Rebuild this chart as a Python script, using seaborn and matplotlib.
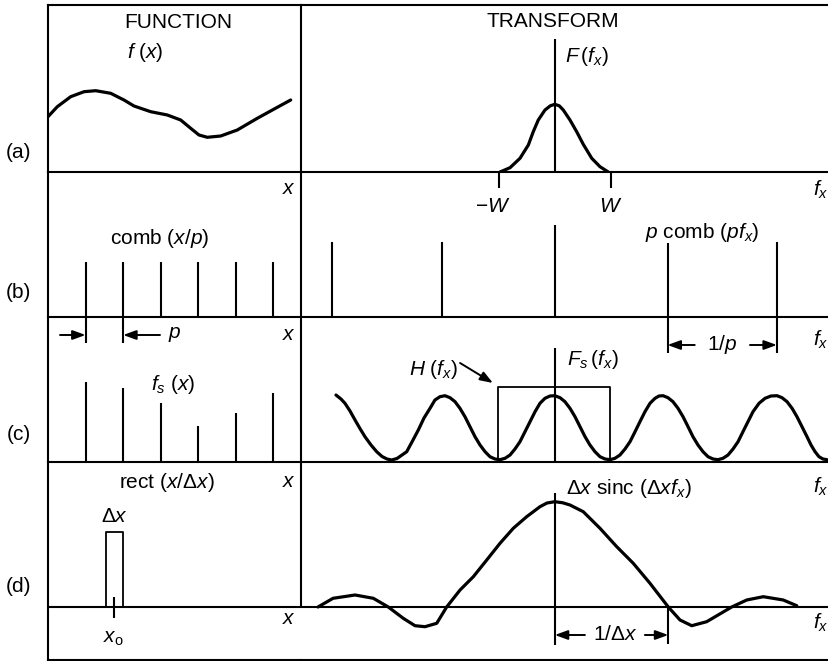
import numpy as np
import pandas as pd
import matplotlib
matplotlib.use("Agg")
import matplotlib.pyplot as plt
import seaborn as sns

# ---------------- data ----------------
# horizontal units: function side in units of the sampling period p,
# transform side in units of 1/p; vertical units are arbitrary amplitude units.

# (a) f(x)
fa_x = [0.0, 0.247, 0.604, 0.958, 1.269, 1.668, 2.022, 2.288, 2.733, 3.175,
        3.531, 3.797, 4.018, 4.239, 4.595, 5.037, 5.569, 6.102, 6.458]
fa_y = [1.106, 1.306, 1.506, 1.606, 1.626, 1.574, 1.44, 1.32, 1.206, 1.14,
        1.04, 0.874, 0.74, 0.694, 0.72, 0.84, 1.074, 1.294, 1.44]

# (a) F(fx)
Fa_fx = [-0.491, -0.401, -0.312, -0.237, -0.193, -0.148, -0.088, -0.04, 0.0,
         0.04, 0.076, 0.136, 0.196, 0.255, 0.331, 0.405, 0.479]
Fa_y = [0.0, 0.086, 0.274, 0.54, 0.806, 1.04, 1.24, 1.324, 1.354,
        1.324, 1.24, 1.04, 0.806, 0.554, 0.274, 0.106, 0.0]
band_W = 0.5

# (b) comb(x/p) and p comb(p fx)
comb_x = [1, 2, 3, 4, 5, 6]
comb_h = [1.1, 1.1, 1.1, 1.1, 1.1, 1.1]
pcomb_fx = [-2.0, -1.01, 0.0, 1.01, 1.99]
pcomb_h = [1.506, 1.506, 1.84, 1.48, 1.506]

# (c) sampled function and its spectrum
fs_h = [1.606, 1.474, 1.174, 0.72, 0.986, 1.374]
Fs_fx = [-1.961, -1.916, -1.880, -1.835, -1.790, -1.746, -1.701, -1.647, -1.596,
         -1.548, -1.504, -1.462, -1.414, -1.369, -1.327, -1.280, -1.223, -1.172,
         -1.118, -1.074, -1.029, -0.984, -0.939, -0.894, -0.850, -0.805, -0.760,
         -0.715, -0.670, -0.625, -0.581, -0.536, -0.491, -0.446, -0.401, -0.357,
         -0.312, -0.267, -0.222, -0.177, -0.133, -0.088, -0.043, 0.0,
         0.047, 0.091, 0.136, 0.181, 0.226, 0.271, 0.315, 0.360, 0.405, 0.450, 0.495,
         0.539, 0.584, 0.629, 0.674, 0.719, 0.763, 0.808, 0.853, 0.898, 0.934, 0.970,
         1.014, 1.059, 1.104, 1.149, 1.194, 1.238, 1.283, 1.328, 1.373, 1.418, 1.462,
         1.507, 1.552, 1.597, 1.642, 1.686, 1.731, 1.776, 1.830, 1.884, 1.937, 1.991,
         2.036, 2.081, 2.126, 2.170, 2.215, 2.260, 2.296, 2.332, 2.367, 2.403, 2.439]
Fs_y = [1.34, 1.26, 1.174, 1.02, 0.84, 0.67, 0.506, 0.34, 0.206,
        0.11, 0.06, 0.04, 0.07, 0.14, 0.206, 0.40, 0.64, 0.88,
        1.074, 1.24, 1.306, 1.326, 1.286, 1.206, 1.074, 0.906, 0.706,
        0.506, 0.34, 0.206, 0.106, 0.06, 0.046, 0.074, 0.14, 0.26,
        0.406, 0.606, 0.806, 1.006, 1.174, 1.274, 1.32, 1.326,
        1.286, 1.206, 1.074, 0.906, 0.706, 0.506, 0.34, 0.206, 0.106, 0.06, 0.046,
        0.074, 0.14, 0.26, 0.406, 0.606, 0.806, 1.006, 1.174, 1.274, 1.32, 1.326,
        1.286, 1.206, 1.074, 0.906, 0.706, 0.506, 0.34, 0.206, 0.106, 0.06, 0.046,
        0.074, 0.14, 0.26, 0.406, 0.606, 0.806, 1.006, 1.174, 1.274, 1.32, 1.326,
        1.286, 1.206, 1.074, 0.906, 0.706, 0.506, 0.34, 0.206, 0.106, 0.06, 0.046]
H_edges = [-0.505, 0.495]
H_height = 1.506

# (d) rect and sinc
rect_edges = [1.543, 1.988]
rect_height = 1.494
x_o = 1.764
sinc_fx = [-2.122, -1.987, -1.790, -1.626, -1.492, -1.358, -1.253, -1.163, -1.058,
           -0.969, -0.849, -0.730, -0.610, -0.491, -0.372, -0.252, -0.133, -0.07, 0.0,
           0.07, 0.136, 0.255, 0.405, 0.555, 0.703, 0.853, 1.017, 1.122, 1.227, 1.361,
           1.585, 1.720, 1.868, 2.047, 2.168]
sinc_y = [0.0, 0.174, 0.24, 0.174, 0.0, -0.226, -0.374, -0.394, -0.326,
          0.0, 0.34, 0.606, 0.94, 1.274, 1.574, 1.806, 2.006, 2.08, 2.106,
          2.085, 2.04, 1.906, 1.574, 1.206, 0.874, 0.474, 0.0, -0.26, -0.374, -0.294,
          0.0, 0.14, 0.206, 0.14, 0.026]
inv_dx = 1.017

# ---------------- style ----------------
sns.set_style("white")
plt.rcParams["font.family"] = ["Liberation Sans", "DejaVu Sans"]
plt.rcParams["mathtext.fontset"] = "custom"
plt.rcParams["mathtext.rm"] = "Liberation Sans"
plt.rcParams["mathtext.it"] = "Liberation Sans:italic"
plt.rcParams["mathtext.bf"] = "Liberation Sans:bold"
FS = 15
K = "black"
LW_FRAME = 1.5
LW_CURVE = 2.3
LW_STICK = 1.5

FW, FH = 829, 661
fig = plt.figure(figsize=(FW / 100, FH / 100), dpi=100)
fig.patch.set_facecolor("white")

X_L, X_D, X_R = 48, 301, 829
ROWS = [4.7, 172, 317, 462, 659.5]
D_BASE = 607
LSC, LORG = 37.58, 48      # px per unit, origin (left column)
RSC, RORG = 111.6, 554.8   # px per unit, origin (right column)
VSC = 50                   # px per vertical unit


def mk(x0, x1, y0, y1):
    ax = fig.add_axes([x0 / FW, 1 - y1 / FH, (x1 - x0) / FW, (y1 - y0) / FH])
    ax.set_xticks([])
    ax.set_yticks([])
    ax.set_facecolor("none")
    for s in ax.spines.values():
        s.set_linewidth(LW_FRAME)
        s.set_color(K)
        s.set_visible(True)
    return ax


axes = {}
for r in range(4):
    y0, y1 = ROWS[r], ROWS[r + 1]
    aL = mk(X_L, X_D, y0, y1)
    aR = mk(X_D, X_R, y0, y1)
    aL.set_xlim(0, (X_D - LORG) / LSC)
    aR.set_xlim((X_D - RORG) / RSC, (X_R - RORG) / RSC)
    if r < 3:
        ylim = (0, (y1 - y0) / VSC)
    else:
        ylim = (-(y1 - D_BASE) / VSC, (D_BASE - y0) / VSC)
    aL.set_ylim(*ylim)
    aR.set_ylim(*ylim)
    aR.spines["left"].set_visible(False)
    aR.spines["right"].set_visible(False)
    if r > 0:
        aL.spines["top"].set_visible(False)
        aR.spines["top"].set_visible(False)
    axes[r] = (aL, aR)

# row d: divider only above the baseline, baseline across both panels
dL, dR = axes[3]
dL.spines["right"].set_visible(False)
dL.vlines(dL.get_xlim()[1], 0, dL.get_ylim()[1], color=K, lw=LW_FRAME, clip_on=False)
dL.axhline(0, color=K, lw=LW_FRAME)
dR.axhline(0, color=K, lw=LW_FRAME)


def curve(ax, xs, ys, lw=LW_CURVE):
    df = pd.DataFrame({"x": xs, "y": ys})
    sns.lineplot(data=df, x="x", y="y", ax=ax, color=K, lw=lw,
                 estimator=None, sort=False, legend=False)
    ax.lines[-1].set_solid_capstyle("round")
    ax.lines[-1].set_solid_joinstyle("round")
    ax.set_xlabel("")
    ax.set_ylabel("")


def arrow(ax, tail, head):
    ax.annotate("", xy=head, xytext=tail,
                arrowprops=dict(arrowstyle="-|>,head_length=0.55,head_width=0.2",
                                color=K, lw=1.4, mutation_scale=14,
                                shrinkA=0, shrinkB=0))


def txt(ax, x, y, s, ha="center"):
    ax.text(x, y, s, ha=ha, va="center", fontsize=FS, color=K)


# ---- row (a)
aL, aR = axes[0]
curve(aL, fa_x, fa_y)
curve(aR, Fa_fx, Fa_y)
aR.vlines(0, 0, 2.66, color=K, lw=LW_STICK)
txt(aL, 3.46, 2.98, "FUNCTION")
txt(aL, 2.58, 2.38, r"$f\ (x)$")
txt(aR, -0.016, 3.006, "TRANSFORM")
txt(aR, 0.29, 2.3, r"$F\,(f_x)$")

# ---- row (b)
bL, bR = axes[1]
bL.vlines(comb_x, 0, comb_h, color=K, lw=LW_STICK)
bR.vlines(pcomb_fx, 0, pcomb_h, color=K, lw=LW_STICK)
bR.vlines([-band_W, band_W], 2.58, 2.9, color=K, lw=LW_STICK, clip_on=False)
txt(bR, -0.553, 2.2, r"$-W$")
txt(bR, band_W, 2.2, r"$W$")
txt(bR, 2.38, 2.54, r"$f_x$")
txt(bR, 1.32, 1.70, r"$p$ comb $(pf_x)$")
txt(bL, 6.41, 2.58, r"$x$")
txt(bL, 2.98, 1.574, r"comb $(x/p)$")

# ---- row (c)
cL, cR = axes[2]
cL.vlines(comb_x, 0, fs_h, color=K, lw=LW_STICK)
cL.vlines(comb_x[:2], 2.38, 2.9, color=K, lw=LW_STICK)
arrow(cL, (0.32, 2.54), (comb_x[0], 2.54))
arrow(cL, (2.98, 2.54), (comb_x[1], 2.54))
txt(cL, 3.38, 2.54, r"$p$")
txt(cL, 6.41, 2.54, r"$x$")
txt(cL, 3.33, 1.54, r"$f_s\ (x)$")

curve(cR, Fs_fx, Fs_y)
cR.plot([H_edges[0], H_edges[0], H_edges[1], H_edges[1]],
        [0, H_height, H_height, 0], color=K, lw=1.3)
cR.vlines(0, 0, 2.28, color=K, lw=LW_STICK)
cR.vlines(pcomb_fx[3:], 2.18, 2.9, color=K, lw=LW_STICK)
arrow(cR, (1.254, 2.34), (pcomb_fx[3], 2.34))
arrow(cR, (1.749, 2.34), (pcomb_fx[4], 2.34))
txt(cR, 1.5, 2.34, r"1/$p$")
txt(cR, 2.38, 2.44, r"$f_x$")
txt(cR, -1.09, 1.84, r"$H\ (f_x)$")
arrow(cR, (-0.849, 1.98), (-0.554, 1.58))
txt(cR, 0.343, 2.04, r"$F_s\,(f_x)$")

# ---- row (d)
dL.plot([rect_edges[0], rect_edges[0], rect_edges[1], rect_edges[1]],
        [0, rect_height, rect_height, 0], color=K, lw=1.3)
dL.vlines(x_o, -0.22, 0.206, color=K, lw=LW_STICK)
txt(dL, 1.764, 1.806, r"$\Delta x$")
txt(dL, 1.73, -0.62, r"$x_\mathrm{o}$")
txt(dL, 3.158, 2.486, r"rect $(x/\Delta x)$")
txt(dL, 6.41, 2.506, r"$x$")
txt(dL, 6.41, -0.24, r"$x$")

curve(dR, sinc_fx, sinc_y)
dR.vlines(0, -0.76, 2.28, color=K, lw=LW_STICK)
dR.vlines(inv_dx, -0.74, 0, color=K, lw=LW_STICK)
arrow(dR, (0.27, -0.56), (0.0, -0.56))
arrow(dR, (0.807, -0.56), (inv_dx, -0.56))
txt(dR, 0.54, -0.56, r"1/$\Delta x$")
txt(dR, 0.665, 2.38, r"$\Delta x$ sinc $(\Delta x f_x)$")
txt(dR, 2.38, 2.4, r"$f_x$")
txt(dR, 2.38, -0.32, r"$f_x$")

# ---- row labels
for lab, yy in zip(["(a)", "(b)", "(c)", "(d)"], [153, 293, 435, 587]):
    fig.text(18.5 / FW, 1 - yy / FH, lab, ha="center", va="center", fontsize=FS, color=K)

fig.savefig("out.png", dpi=100, facecolor="white")
